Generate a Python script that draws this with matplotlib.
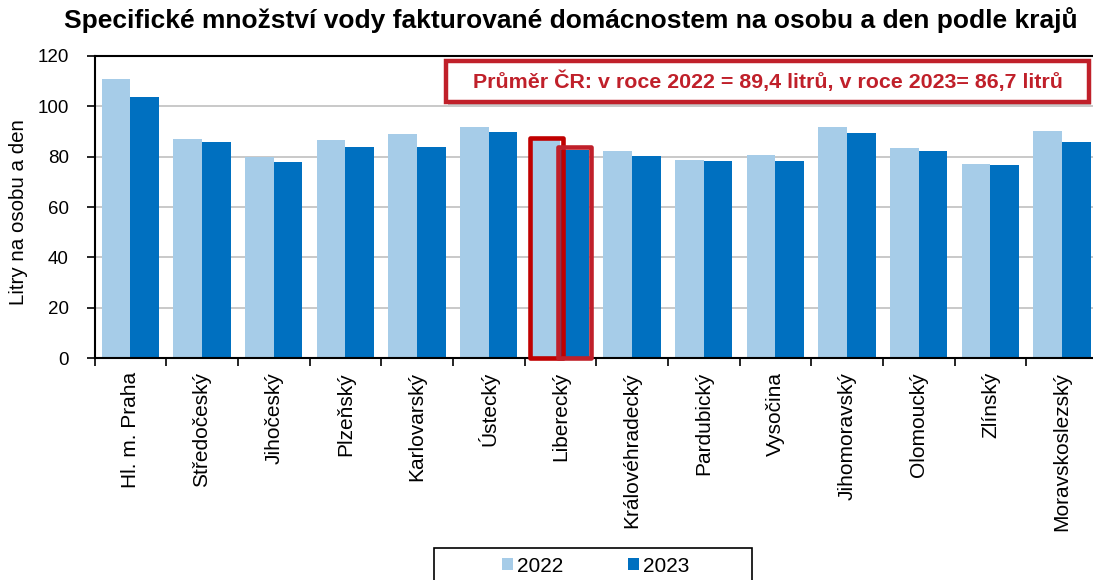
import matplotlib
matplotlib.use("Agg")
import matplotlib.pyplot as plt
from matplotlib.patches import Rectangle
import numpy as np

plt.rcParams['font.family'] = ['Liberation Sans', 'DejaVu Sans']

regions = ["Hl. m. Praha", "Středočeský", "Jihočeský", "Plzeňský", "Karlovarský",
           "Ústecký", "Liberecký", "Královéhradecký", "Pardubický", "Vysočina",
           "Jihomoravský", "Olomoucký", "Zlínský", "Moravskoslezský"]
values_2022 = [110.7, 86.8, 79.8, 86.6, 88.8, 91.6, 86.4, 82.2, 78.5, 80.7, 91.7, 83.4, 76.9, 90.1]
values_2023 = [103.5, 85.8, 77.8, 83.9, 83.9, 89.6, 82.7, 80.3, 78.2, 78.2, 89.2, 82.1, 76.8, 85.6]
series_labels = ["2022", "2023"]
highlight_region = "Liberecký"
title = "Specifické množství vody fakturované domácnostem na osobu a den podle krajů"
note = "Průměr ČR: v roce 2022 = 89,4 litrů, v roce 2023= 86,7 litrů"
ylabel = "Litry na osobu a den"

W, H = 1093, 580
fig = plt.figure(figsize=(W / 100, H / 100), dpi=100)
ax = fig.add_axes([94.5 / W, 1 - 358.3 / H, (1098 - 94.5) / W, (358.3 - 55.7) / H])

c22 = '#a6cce8'
c23 = '#0070c0'
red = '#c0202a'
x = np.arange(len(regions))
bw = 0.4
ax.bar(x - bw / 2, values_2022, bw, color=c22, label=series_labels[0], zorder=2, linewidth=0)
ax.bar(x + bw / 2, values_2023, bw, color=c23, label=series_labels[1], zorder=2, linewidth=0)

# highlight outlines
i = regions.index(highlight_region)
padx = 0.03
for xc, v, col in [(x[i] - bw / 2, values_2022[i], '#c00000'), (x[i] + bw / 2, values_2023[i], red)]:
    r = Rectangle((xc - bw / 2 - padx, 0), bw + 2 * padx, v + 0.9, fill=False,
                  edgecolor=col, linewidth=3.3, joinstyle='round', zorder=4, clip_on=False)
    ax.add_patch(r)

ax.set_xlim(-0.5, len(regions) - 0.5)
ax.set_ylim(0, 120)
ax.set_yticks(np.arange(0, 121, 20))
ax.set_xticks(np.arange(-0.5, len(regions), 1.0))
ax.set_xticklabels([])
ax.set_xticks(x, minor=True)
ax.set_xticklabels(regions, minor=True, rotation=90, fontsize=15)
ax.tick_params(axis='x', which='minor', length=0, pad=10)
ax.tick_params(axis='x', which='major', length=5.5, width=1.2, direction='out')
ax.tick_params(axis='y', length=5.5, width=1.2, labelsize=13.5, pad=13)
ax.grid(axis='y', color='#c0c0c0', linewidth=1.2, zorder=0)
ax.set_axisbelow(True)
for s in ['left', 'bottom', 'top']:
    ax.spines[s].set_linewidth(1.5)
    ax.spines[s].set_color('black')
ax.spines['right'].set_visible(False)

fig.text(19 / W, 1 - 212 / H, ylabel, rotation=90, ha='center', va='center', fontsize=14.75)

fig.text(571 / W, 1 - 20 / H, title, ha='center', va='center', fontsize=19, fontweight='bold')

# note box with shadow
bx0, bx1, by0, by1 = 446, 1089, 61, 102
fig.patches.append(Rectangle((bx0 / W + 2 / W, 1 - (by1 + 3) / H), (bx1 - bx0) / W, (by1 - by0) / H,
                             transform=fig.transFigure, facecolor='#bfbfbf', edgecolor='none', zorder=5))
fig.patches.append(Rectangle((bx0 / W, 1 - by1 / H), (bx1 - bx0) / W, (by1 - by0) / H,
                             transform=fig.transFigure, facecolor='white', edgecolor=red, linewidth=3.2, zorder=6))
fig.text((bx0 + bx1) / 2 / W, 1 - (by0 + by1) / 2 / H, note, ha='center', va='center',
         fontsize=15.4, fontweight='bold', color=red, zorder=7)

# legend frame
fig.patches.append(Rectangle((434 / W, 1 - 600 / H), (752 - 434) / W, (600 - 548) / H,
                             transform=fig.transFigure, facecolor='white', edgecolor='black',
                             linewidth=1.2, zorder=5))
leg = fig.legend(loc='center left', bbox_to_anchor=(502 / W, 1 - 566 / H), ncol=2, fontsize=15,
                 frameon=False, handlelength=0.52, handleheight=0.52, borderpad=0, borderaxespad=0,
                 handletextpad=0.2, columnspacing=3.1)
leg.set_zorder(8)

fig.savefig('out.png', dpi=100)
